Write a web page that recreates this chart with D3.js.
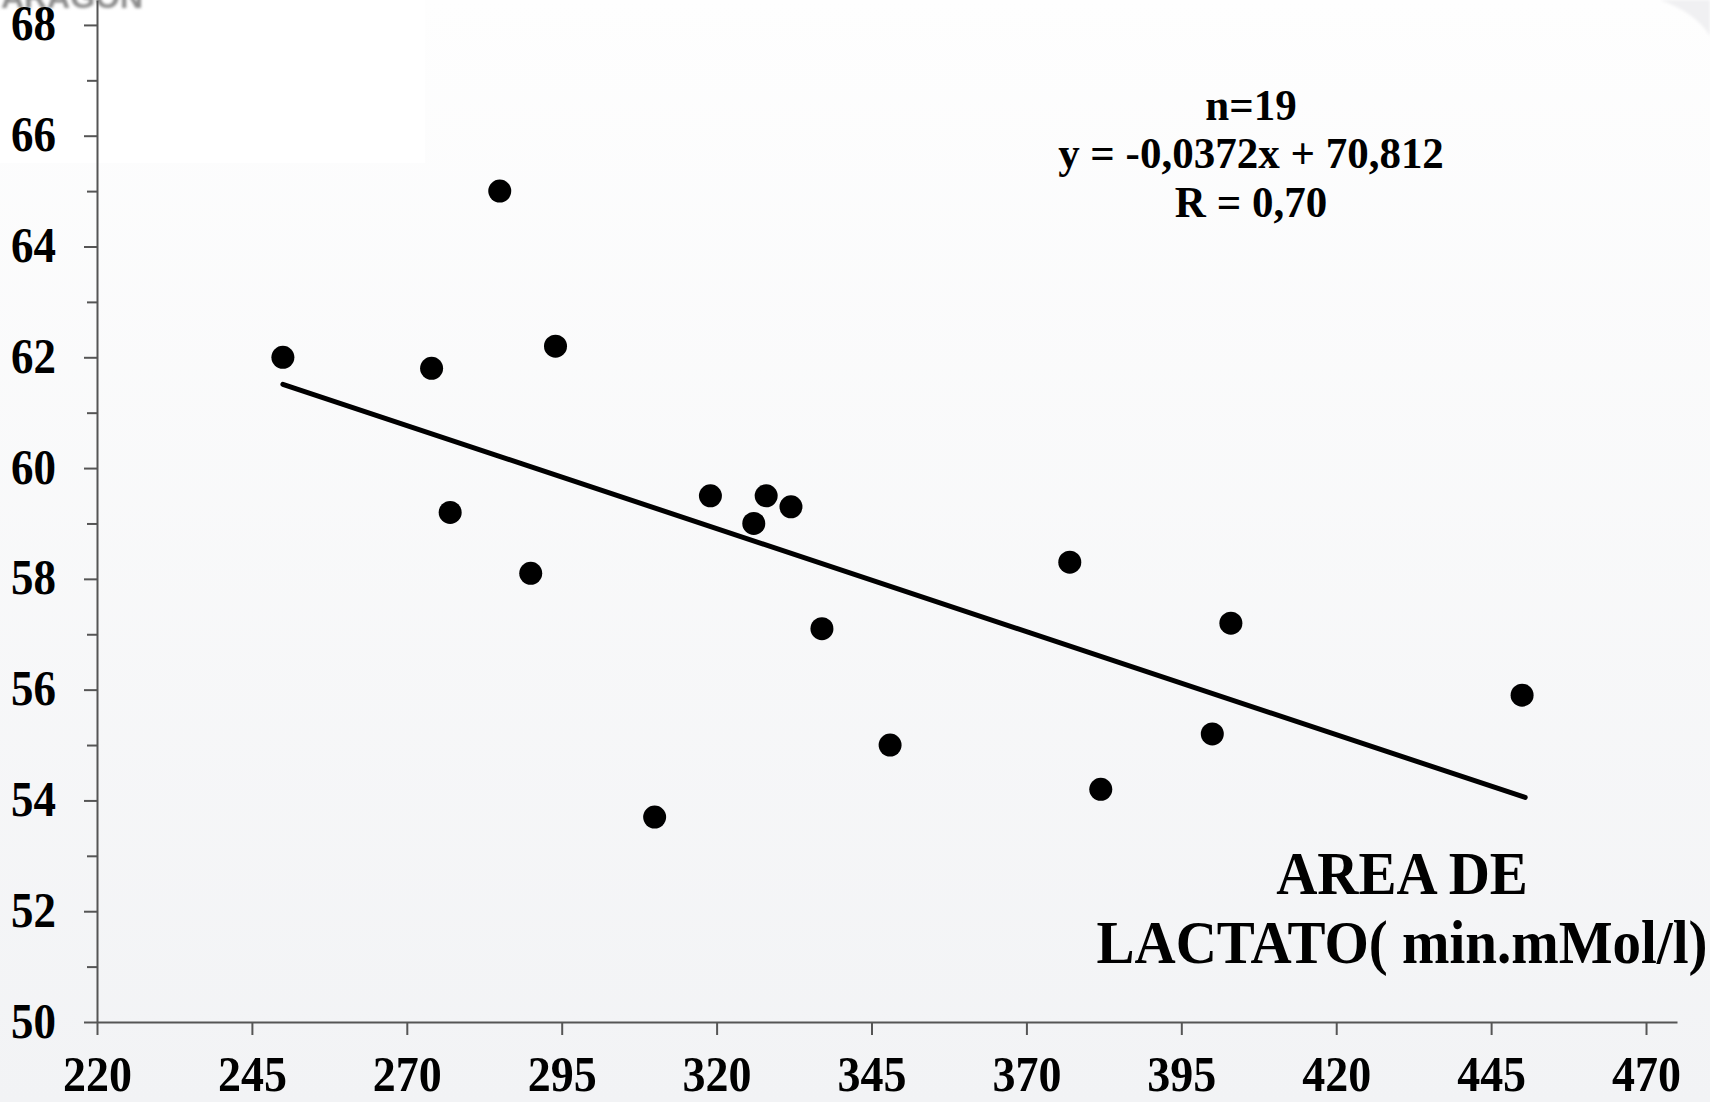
<!DOCTYPE html>
<html>
<head>
<meta charset="utf-8">
<script src="https://cdn.jsdelivr.net/npm/d3@7"></script>
<style>
  html, body { margin: 0; padding: 0; background: #fff; }
  svg { display: block; }
  .lbl { font-family: "Liberation Serif", "Times New Roman", serif; font-weight: bold; fill: #000; }
</style>
</head>
<body>
<svg id="chart" width="1710" height="1102"></svg>
<script>
// lactate area (x) vs. y value
const lactateArea = [250, 274, 277, 285, 290, 294, 310, 319, 326, 328, 332, 337, 348, 377, 382, 400, 403, 450];
const yValues = [62.0, 61.8, 59.2, 65.0, 58.1, 62.2, 53.7, 59.5, 59.0, 59.5, 59.3, 57.1, 55.0, 58.3, 54.2, 55.2, 57.2, 55.9];
const xTicks = [220, 245, 270, 295, 320, 345, 370, 395, 420, 445, 470];
const yTicks = [50, 52, 54, 56, 58, 60, 62, 64, 66, 68];
const yMinorTicks = [51, 53, 55, 57, 59, 61, 63, 65, 67];
// regression shown in the chart: y = -0,0372x + 70,812
const fit = { slope: -0.0372, intercept: 70.812, from: 250, to: 450.5 };
const statLines = ['n=19', 'y = -0,0372x + 70,812', 'R = 0,70'];
const axisTitle = ['AREA DE', 'LACTATO( min.mMol/l)'];

const svg = d3.select('#chart');
const W = +svg.attr('width');
const H = +svg.attr('height');

// the slide's font is drawn a bit taller than Times: stretch around the baseline
function stretch(sel, k) {
  sel.each(function () {
    const t = d3.select(this);
    const tx = +t.attr('x') || 0;
    const ty = +t.attr('y') || 0;
    t.attr('transform', `translate(${tx},${ty}) scale(1,${k}) translate(${-tx},${-ty})`);
  });
}

// slide background
const defs = svg.append('defs');
const grad = defs.append('linearGradient')
  .attr('id', 'bg')
  .attr('x1', 0).attr('y1', 0).attr('x2', 0).attr('y2', 1);
grad.append('stop').attr('offset', '0%').attr('stop-color', '#fefefe');
grad.append('stop').attr('offset', '100%').attr('stop-color', '#f2f3f5');
defs.append('filter').attr('id', 'blur')
  .append('feGaussianBlur').attr('stdDeviation', 1.6);

svg.append('rect').attr('width', W).attr('height', H).attr('fill', 'url(#bg)');
svg.append('rect').attr('width', 425).attr('height', 163).attr('fill', '#ffffff');
svg.append('path')
  .attr('d', 'M1660,0 Q1695,12 1710,36 L1710,0 Z')
  .attr('fill', '#f0f0f2')
  .attr('filter', 'url(#blur)');
svg.append('text')
  .attr('x', 72).attr('y', 8)
  .attr('text-anchor', 'middle')
  .attr('filter', 'url(#blur)')
  .style('font-family', '"Liberation Sans", Arial, sans-serif')
  .style('font-weight', 'bold')
  .style('font-size', '32px')
  .style('fill', '#8a8a8a')
  .text('ARAGON');

const x = d3.scaleLinear().domain([220, 475]).range([97, 1677]);
const y = d3.scaleLinear().domain([50, 68.45]).range([1022, 0]);

const axisColor = '#555';

// y axis: minor ticks first, then labelled majors
svg.append('g')
  .attr('transform', `translate(${x(220)},0)`)
  .call(d3.axisLeft(y).tickValues(yMinorTicks).tickSize(10).tickFormat(''))
  .call(g => g.select('.domain').remove());

const yAxis = svg.append('g')
  .attr('transform', `translate(${x(220)},0)`)
  .call(d3.axisLeft(y).tickValues(yTicks).tickSize(13).tickPadding(28).tickSizeOuter(0));
yAxis.selectAll('text')
  .attr('class', 'lbl')
  .style('font-size', '45px')
  .attr('y', 15)
  .attr('dy', null);
stretch(yAxis.selectAll('text'), 1.12);

const xAxis = svg.append('g')
  .attr('transform', `translate(0,${y(50)})`)
  .call(d3.axisBottom(x).tickValues(xTicks).tickSize(13).tickPadding(23).tickSizeOuter(0));
xAxis.selectAll('text')
  .attr('class', 'lbl')
  .style('font-size', '46px')
  .attr('y', 69)
  .attr('dy', null);
stretch(xAxis.selectAll('text'), 1.1);

svg.selectAll('.domain, .tick line')
  .attr('stroke', axisColor)
  .attr('stroke-width', 2);
svg.selectAll('.tick text').attr('fill', '#000');

// trend line
svg.append('line')
  .attr('x1', x(fit.from))
  .attr('y1', y(fit.slope * fit.from + fit.intercept))
  .attr('x2', x(fit.to))
  .attr('y2', y(fit.slope * fit.to + fit.intercept))
  .attr('stroke', '#000')
  .attr('stroke-width', 5)
  .attr('stroke-linecap', 'round');

// points
svg.append('g')
  .selectAll('circle')
  .data(lactateArea)
  .join('circle')
  .attr('cx', d => x(d))
  .attr('cy', (d, i) => y(yValues[i]))
  .attr('r', 11.5)
  .attr('fill', '#000');

// regression stats
const stats = svg.append('g')
  .selectAll('text')
  .data(statLines)
  .join('text')
  .attr('class', 'lbl')
  .attr('x', 1251)
  .attr('y', (d, i) => 120 + i * 48.5)
  .attr('text-anchor', 'middle')
  .style('font-size', '43px')
  .text(d => d);
stretch(stats, 1.05);

// axis title, bottom right
const title = svg.append('g')
  .selectAll('text')
  .data(axisTitle)
  .join('text')
  .attr('class', 'lbl')
  .attr('x', 1402)
  .attr('y', (d, i) => 894 + i * 69)
  .attr('text-anchor', 'middle')
  .style('font-size', '57px')
  .text(d => d);
stretch(title, 1.06);
</script>
</body>
</html>
